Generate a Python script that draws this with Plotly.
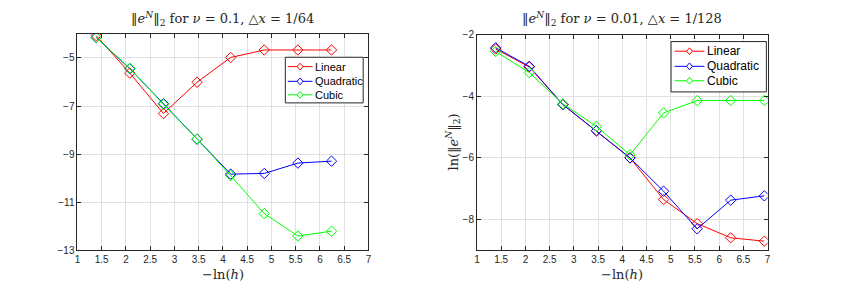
import plotly.graph_objects as go

# x values: -ln(h)
x_left = [1.386, 2.079, 2.773, 3.466, 4.159, 4.852, 5.545, 6.238]
x_right = [1.386, 2.079, 2.773, 3.466, 4.159, 4.852, 5.545, 6.238, 6.931]

# Left: nu = 0.1, dx = 1/64
left_linear = [-4.07, -5.63, -7.31, -6.01, -4.98, -4.67, -4.67, -4.67]
left_quadratic = [-4.15, -5.45, -6.90, -8.38, -9.83, -9.80, -9.37, -9.29]
left_cubic = [-4.15, -5.43, -6.93, -8.37, -9.89, -11.47, -12.40, -12.20]

# Right: nu = 0.01, dx = 1/128
right_linear = [-2.47, -3.05, -4.27, -5.12, -6.00, -7.35, -8.13, -8.59, -8.70]
right_quadratic = [-2.43, -3.03, -4.27, -5.12, -6.00, -7.08, -8.30, -7.37, -7.23]
right_cubic = [-2.55, -3.23, -4.25, -4.98, -5.90, -4.54, -4.14, -4.14, -4.14]

names = ["Linear", "Quadratic", "Cubic"]
colors = ["#ff0000", "#0000ff", "#00ff00"]

x_ticks = [1, 1.5, 2, 2.5, 3, 3.5, 4, 4.5, 5, 5.5, 6, 6.5, 7]
left_yticks = [-5, -7, -9, -11, -13]
right_yticks = [-2, -4, -6, -8]

W, H = 864, 293
fig = go.Figure()

for name, color, ys in zip(names, colors, [left_linear, left_quadratic, left_cubic]):
    fig.add_trace(go.Scatter(x=x_left, y=ys, name=name, mode="lines+markers",
                             line=dict(color=color, width=1),
                             marker=dict(symbol="diamond-open", size=8, color=color, line=dict(width=1)),
                             xaxis="x", yaxis="y", showlegend=False))
for name, color, ys in zip(names, colors, [right_linear, right_quadratic, right_cubic]):
    fig.add_trace(go.Scatter(x=x_right, y=ys, name=name, mode="lines+markers",
                             line=dict(color=color, width=1),
                             marker=dict(symbol="diamond-open", size=8, color=color, line=dict(width=1)),
                             xaxis="x2", yaxis="y2", showlegend=False))

def px(v):
    return v / W

def py(v):
    return 1 - v / H

tickfont = dict(family="Liberation Sans, Arial", size=10, color="#262626")
axis_common = dict(showline=True, linecolor="#262626", linewidth=1, mirror="ticks",
                   ticks="inside", ticklen=4, tickcolor="#262626",
                   showgrid=True, gridcolor="#e0e0e0", gridwidth=1, zeroline=False,
                   tickfont=tickfont)

fig.update_layout(
    width=W, height=H,
    margin=dict(l=0, r=0, t=0, b=0),
    paper_bgcolor="white", plot_bgcolor="white",
    showlegend=False,
    xaxis=dict(domain=[px(75), px(368)], range=[1, 7], tickvals=x_ticks,
               ticktext=[f"{t:g}" for t in x_ticks], anchor="y", **axis_common),
    yaxis=dict(domain=[py(255), py(30)], range=[-13, -4], tickvals=left_yticks,
               anchor="x", **axis_common),
    xaxis2=dict(domain=[px(477.3), px(770)], range=[1, 7], tickvals=x_ticks,
                ticktext=[f"{t:g}" for t in x_ticks], anchor="y2", **axis_common),
    yaxis2=dict(domain=[py(255), py(30.7)], range=[-9, -2], tickvals=right_yticks,
                anchor="x2", **axis_common),
)

# Compact legend boxes (MATLAB style), drawn as layout shapes + text
shapes = []
annotations = []

def add_legend(box, rows, line_x, cx, text_x, fsize):
    x0, y0, x1, y1 = box
    shapes.append(dict(type="rect", xref="paper", yref="paper",
                       x0=px(x0), x1=px(x1), y0=py(y1), y1=py(y0),
                       line=dict(color="#262626", width=1), fillcolor="white", layer="above"))
    for name, color, ry in zip(names, colors, rows):
        shapes.append(dict(type="line", xref="paper", yref="paper",
                           x0=px(line_x[0]), x1=px(line_x[1]), y0=py(ry), y1=py(ry),
                           line=dict(color=color, width=1), layer="above"))
        hx, hy = 3.0, 3.5
        path = (f"M {px(cx)},{py(ry - hy)} L {px(cx + hx)},{py(ry)} "
                f"L {px(cx)},{py(ry + hy)} L {px(cx - hx)},{py(ry)} Z")
        shapes.append(dict(type="path", xref="paper", yref="paper", path=path,
                           line=dict(color=color, width=1), fillcolor="white", layer="above"))
        annotations.append(dict(text=name, x=px(text_x), y=py(ry), xref="paper", yref="paper",
                                showarrow=False, xanchor="left", yanchor="middle",
                                font=dict(family="Liberation Sans, Arial", size=fsize, color="black")))

add_legend((284.3, 54.3, 362.7, 101.7), [64, 79.3, 93.3], (286.7, 311.7), 299.2, 312.5, 11)
add_legend((672.7, 38, 768.7, 90.3), [48, 63.7, 78.7], (676.3, 706.3), 691.3, 707, 12)

title_font = dict(family="DejaVu Serif, Liberation Serif, serif", size=13, color="#262626")
label_font = dict(family="DejaVu Serif, Liberation Serif, serif", size=13, color="#262626")
xlabel = "−ln(<i>h</i>)"

annotations += [
    dict(text="‖<i>e</i><sup><i>N</i></sup>‖<sub>2</sub> for <i>ν</i> = 0.1, △<i>x</i> = 1/64",
         x=px(221.5), y=py(15), xref="paper", yref="paper", showarrow=False,
         xanchor="center", yanchor="middle", font=title_font),
    dict(text="‖<i>e</i><sup><i>N</i></sup>‖<sub>2</sub> for <i>ν</i> = 0.01, △<i>x</i> = 1/128",
         x=px(623.6), y=py(15), xref="paper", yref="paper", showarrow=False,
         xanchor="center", yanchor="middle", font=title_font),
    dict(text=xlabel, x=px(221.5), y=py(280), xref="paper", yref="paper", showarrow=False,
         xanchor="center", yanchor="middle", font=label_font),
    dict(text=xlabel, x=px(623.6), y=py(280), xref="paper", yref="paper", showarrow=False,
         xanchor="center", yanchor="middle", font=label_font),
    dict(text="ln(‖<i>e</i><sup><i>N</i></sup>‖<sub>2</sub>)", x=px(453), y=py(142), xref="paper", yref="paper",
         showarrow=False, textangle=-90, xanchor="center", yanchor="middle", font=label_font),
]
fig.update_layout(shapes=shapes, annotations=annotations)

fig.write_html("out.html", config={"displayModeBar": False},
               post_script="document.body.style.margin='0';document.body.style.padding='0';")
